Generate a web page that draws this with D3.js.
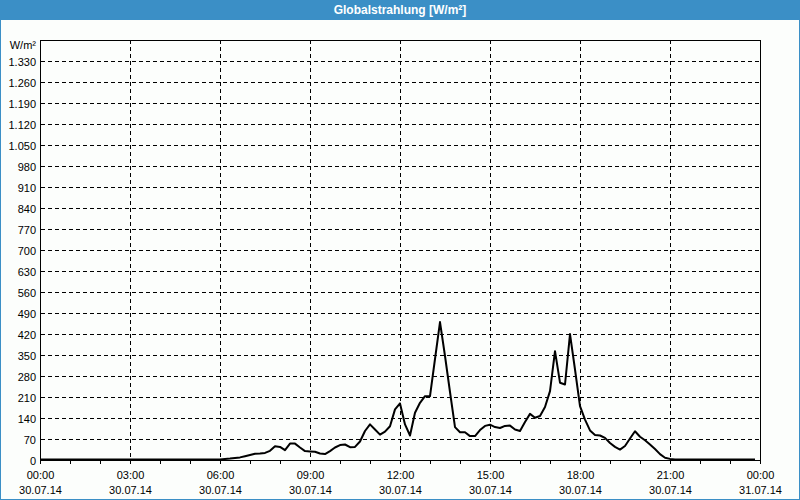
<!DOCTYPE html>
<html><head><meta charset="utf-8">
<script src="https://cdn.jsdelivr.net/npm/d3@7"></script>
<style>
html,body{margin:0;padding:0;background:#fcfefc;}
svg{display:block;}
</style></head>
<body><svg id="chart" width="800" height="500"></svg>
<script>
// 10-minute samples, 30.07.14 00:00 .. 23:50 (W/m²)
const values = [
  0,0,0,0,0,0, 0,0,0,0,0,0, 0,0,0,0,0,0,          // 00-03
  0,0,0,0,0,0, 0,0,0,0,0,0, 0,0,0,0,0,0,          // 03-06
  0,2,3,5,7,11, 15,19,20,22,29,44,                  // 06-08
  42,31,53,53,40,28, 27,26,20,18,28,40,             // 08-10
  48,50,41,42,60,95, 117,100,83,93,111,167,         // 10-12
  187,117,80,156,189,211, 211,335,458,345,225,108,  // 12-14
  91,91,78,78,98,112, 116,108,105,112,113,100,      // 14-16
  95,125,152,139,145,175, 228,361,256,250,418,300,  // 16-18
  178,133,97,82,80,72, 55,42,33,45,70,94,           // 18-20
  76,64,50,35,18,6, 2,0,0,0,0,0,                    // 20-22
  0,0,0,0,0,0, 0,0,0,0,0,0                          // 22-24
];
const startTime = new Date(2014, 6, 30, 0, 0);
const stepMinutes = 10;
const yTicks = [70,140,210,280,350,420,490,560,630,700,770,840,910,980,1050,1120,1190,1260,1330];
const yMax = 1400;
const xTickHours = [0,3,6,9,12,15,18,21,24];
const title = "Globalstrahlung [W/m²]";
const unitLabel = "W/m²";

const svg = d3.select("#chart");
const W = 800, H = 500;
const L = 40, R = 760, T = 40, B = 460;
const blue = "#3b8fc6";
const font = "'Liberation Sans', Arial, sans-serif";

// frame / title bar
svg.append("rect").attr("x",0).attr("y",0).attr("width",W).attr("height",H).attr("fill","#fcfefc");
svg.append("rect").attr("x",0.5).attr("y",0.5).attr("width",W-1).attr("height",H-1)
  .attr("fill","none").attr("stroke",blue).attr("stroke-width",1);
svg.append("rect").attr("x",0).attr("y",0).attr("width",W).attr("height",20).attr("fill",blue);
svg.append("text").attr("x",W/2).attr("y",14).attr("text-anchor","middle")
  .attr("fill","#fff").attr("font-family",font).attr("font-weight","bold").attr("font-size",12)
  .text(title);

const x = d3.scaleTime()
  .domain([startTime, d3.timeHour.offset(startTime, 24)])
  .range([L, R]);
const y = d3.scaleLinear().domain([0, yMax]).range([B, T]);

const data = values.map((v,i)=>({t: d3.timeMinute.offset(startTime, i*stepMinutes), v}));

const fmtNum = v => d3.format(",")(v).replace(/,/g, ".");

// horizontal grid
const g = svg.append("g").attr("shape-rendering","crispEdges");
g.selectAll(".hg").data(yTicks).enter().append("line")
  .attr("x1",L+1).attr("x2",R).attr("y1",d=>Math.round(y(d))+0.5).attr("y2",d=>Math.round(y(d))+0.5)
  .attr("stroke","#000").attr("stroke-dasharray","4,3");
// vertical grid
const xTickDates = xTickHours.map(h=>d3.timeHour.offset(startTime,h));
g.selectAll(".vg").data(xTickDates.slice(1,-1)).enter().append("line")
  .attr("x1",d=>Math.round(x(d))+0.5).attr("x2",d=>Math.round(x(d))+0.5)
  .attr("y1",T).attr("y2",B)
  .attr("stroke","#000").attr("stroke-dasharray","4,3");

// hourly ticks under the axis
const hourTicks = d3.range(0,25).map(h=>d3.timeHour.offset(startTime,h));
g.selectAll(".mt").data(hourTicks).enter().append("line")
  .attr("x1",d=>Math.round(x(d))+0.5).attr("x2",d=>Math.round(x(d))+0.5)
  .attr("y1",B).attr("y2",B+4).attr("stroke","#000");

// plot frame
g.append("rect").attr("x",L+0.5).attr("y",T+0.5).attr("width",R-L).attr("height",B-T)
  .attr("fill","none").attr("stroke","#000");

// y labels
svg.selectAll(".yl").data([0].concat(yTicks)).enter().append("text")
  .attr("x",L-4).attr("y",d=>y(d)+4.5).attr("text-anchor","end")
  .attr("font-family",font).attr("font-size",11).attr("fill","#000")
  .text(d=>fmtNum(d));
svg.append("text").attr("x",L-4).attr("y",T+9).attr("text-anchor","end")
  .attr("font-family",font).attr("font-size",11).attr("fill","#000").text(unitLabel);

// x labels
const fmtT = d3.timeFormat("%H:%M"), fmtD = d3.timeFormat("%d.%m.%y");
const xl = svg.selectAll(".xl").data(xTickDates).enter().append("g")
  .attr("transform",d=>`translate(${x(d)+0.5},0)`);
xl.append("text").attr("y",479).attr("text-anchor","middle")
  .attr("font-family",font).attr("font-size",11).text(d=>fmtT(d));
xl.append("text").attr("y",494).attr("text-anchor","middle")
  .attr("font-family",font).attr("font-size",11).text(d=>fmtD(d));

// data line
const line = d3.line().x(d=>x(d.t)).y(d=>y(d.v)-0.5);
svg.append("path").datum(data).attr("d",line)
  .attr("fill","none").attr("stroke","#000").attr("stroke-width",2).attr("stroke-linejoin","round");
</script></body></html>
